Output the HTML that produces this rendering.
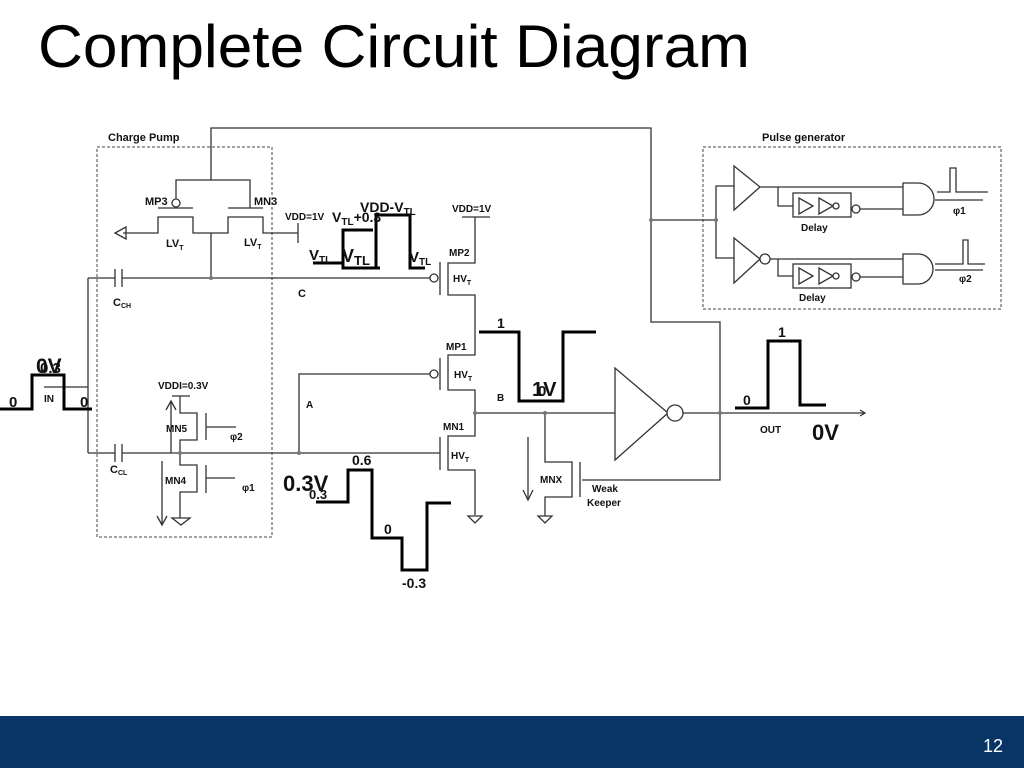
<!DOCTYPE html>
<html><head><meta charset="utf-8"><style>
html,body{margin:0;padding:0;background:#fff;}
svg{display:block;}
text{font-family:"Liberation Sans",Arial,sans-serif;fill:#111;}
.b{font-weight:bold;}
</style></head><body>
<svg width="1024" height="768" viewBox="0 0 1024 768" xmlns="http://www.w3.org/2000/svg">
<text x="38" y="67" font-size="60" textLength="712" lengthAdjust="spacingAndGlyphs" style="fill:#000">Complete Circuit Diagram</text>
<rect x="0" y="716" width="1024" height="52" fill="#083566"/>
<text x="983" y="752" font-size="18" style="fill:#fff">12</text>

<g fill="none" stroke="#444" stroke-width="1">
<rect x="97" y="147" width="175" height="390" stroke-dasharray="3,2"/>
<rect x="703" y="147" width="298" height="162" stroke-dasharray="3,2"/>
</g>

<g fill="none" stroke="#333" stroke-width="1.3">
<polyline points="211,180 211,128 651,128 651,322 720,322 720,480 582,480"/>
<line x1="651" y1="220" x2="716" y2="220"/>
<polyline points="734,186 716,186 716,258 734,258"/>
<polyline points="176,199 176,180 250,180 250,208"/>
<line x1="158" y1="208" x2="193" y2="208"/>
<line x1="228" y1="208" x2="263" y2="208"/>
<circle cx="176" cy="203" r="4" fill="#fff"/>
<polyline points="123,233 158,233 158,217 193,217 193,233 228,233 228,217 263,217 263,233 298,233"/>
<line x1="298" y1="223" x2="298" y2="243"/>
<polygon points="115,233 126,227 126,239"/>
<line x1="211" y1="233" x2="211" y2="278"/>
<line x1="88" y1="278" x2="115" y2="278"/>
<line x1="122" y1="278" x2="430" y2="278"/>
<line x1="115" y1="269" x2="115" y2="287"/><line x1="122" y1="269" x2="122" y2="287"/>
<line x1="88" y1="278" x2="88" y2="453"/>
<line x1="44" y1="387" x2="88" y2="387"/>
<line x1="88" y1="453" x2="115" y2="453"/>
<line x1="122" y1="453" x2="440" y2="453"/>
<line x1="115" y1="444" x2="115" y2="462"/><line x1="122" y1="444" x2="122" y2="462"/>
<polyline points="299,453 299,374 430,374"/>
<circle cx="434" cy="278" r="4" fill="#fff"/>
<line x1="440" y1="262" x2="440" y2="295"/>
<polyline points="475,217 475,263 448,263 448,295 475,295 475,355 448,355 448,390 475,390 475,436 448,436 448,470 475,470 475,515"/>
<line x1="462" y1="217" x2="490" y2="217"/>
<circle cx="434" cy="374" r="4" fill="#fff"/>
<line x1="440" y1="358" x2="440" y2="390"/>
<line x1="440" y1="437" x2="440" y2="470"/>
<polygon points="468,516 482,516 475,523" fill="#fff"/>
<line x1="475" y1="413" x2="616" y2="413"/>
<polyline points="545,413 545,462 572,462 572,497 545,497 545,516"/>
<polygon points="538,516 552,516 545,523" fill="#fff"/>
<line x1="580" y1="462" x2="580" y2="497"/>
<line x1="528" y1="437" x2="528" y2="500"/>
<polyline points="523,490 528,500 533,490"/>
<polygon points="615,368 615,460 668,413" fill="#fff"/>
<circle cx="675" cy="413" r="8" fill="#fff"/>
<line x1="683" y1="413" x2="864" y2="413"/>
<polyline points="860,410 865,413 860,416"/>
<line x1="172" y1="396" x2="190" y2="396"/>
<polyline points="180,396 180,413 197,413 197,440 180,440 180,465 197,465 197,492 180,492 180,518"/>
<polygon points="172,518 190,518 181,525" fill="#fff"/>
<line x1="206" y1="413" x2="206" y2="440"/><line x1="206" y1="427" x2="236" y2="427"/>
<line x1="206" y1="465" x2="206" y2="493"/><line x1="206" y1="478" x2="235" y2="478"/>
<line x1="171" y1="453" x2="171" y2="401"/><polyline points="166,410 171,401 176,410"/>
<line x1="162" y1="461" x2="162" y2="525"/><polyline points="157,516 162,525 167,516"/>
<polygon points="734,166 734,210 760,187" fill="#fff"/>
<line x1="760" y1="187" x2="903" y2="187"/>
<polyline points="778,187 778,206 793,206"/>
<rect x="793" y="193" width="58" height="24" fill="#fff"/>
<polygon points="799,198 799,214 813,206" fill="#fff"/>
<polygon points="819,198 819,214 833,206" fill="#fff"/>
<circle cx="836" cy="206" r="3" fill="#fff"/>
<circle cx="856" cy="209" r="4" fill="#fff"/>
<line x1="860" y1="209" x2="903" y2="209"/>
<path d="M903,183 L918,183 A16,16 0 0 1 918,215 L903,215 Z" fill="#fff"/>
<polyline points="937,192 950,192 950,168 956,168 956,192 988,192"/>
<line x1="935" y1="200" x2="983" y2="200"/>
<polygon points="734,238 734,283 760,259" fill="#fff"/>
<circle cx="765" cy="259" r="5" fill="#fff"/>
<line x1="770" y1="259" x2="903" y2="259"/>
<polyline points="778,259 778,276 793,276"/>
<rect x="793" y="264" width="58" height="24" fill="#fff"/>
<polygon points="799,268 799,284 813,276" fill="#fff"/>
<polygon points="819,268 819,284 833,276" fill="#fff"/>
<circle cx="836" cy="276" r="3" fill="#fff"/>
<circle cx="856" cy="277" r="4" fill="#fff"/>
<line x1="860" y1="277" x2="903" y2="277"/>
<path d="M903,254 L918,254 A15,15 0 0 1 918,284 L903,284 Z" fill="#fff"/>
<polyline points="935,264 963,264 963,240 968,240 968,264 985,264"/>
<line x1="935" y1="270" x2="983" y2="270"/>
</g>
<g fill="#777">
<circle cx="211" cy="278" r="2"/><circle cx="180" cy="453" r="2"/><circle cx="299" cy="453" r="2"/>
<circle cx="475" cy="413" r="2"/><circle cx="545" cy="413" r="2"/><circle cx="720" cy="413" r="2"/>
<circle cx="651" cy="220" r="2"/><circle cx="716" cy="220" r="2"/>
</g>

<g fill="none" stroke="#000" stroke-width="3">
<polyline points="0,409 32,409 32,375 64,375 64,409 92,409"/>
<polyline points="313,263 343,263 343,268 380,268"/>
<polyline points="343,268 343,230 373,230"/>
<polyline points="376,268 376,215 410,215 410,268 425,268"/>
<polyline points="479,332 519,332 519,401 563,401 563,332 596,332"/>
<polyline points="316,502 348,502 348,470 372,470 372,538 402,538 402,570 427,570 427,503 451,503"/>
<polyline points="735,408 768,408 768,341 800,341 800,405 826,405"/>
</g>

<g class="b">
<text x="108" y="141" font-size="11">Charge Pump</text>
<text x="762" y="141" font-size="11">Pulse generator</text>
<text x="145" y="205" font-size="11">MP3</text>
<text x="254" y="205" font-size="11">MN3</text>
<text x="166" y="247" font-size="11">LV<tspan font-size="7" dy="3">T</tspan></text>
<text x="244" y="246" font-size="11">LV<tspan font-size="7" dy="3">T</tspan></text>
<text x="113" y="306" font-size="11">C<tspan font-size="7" dy="2">CH</tspan></text>
<text x="110" y="473" font-size="11">C<tspan font-size="7" dy="2">CL</tspan></text>
<text x="285" y="220" font-size="10">VDD=1V</text>
<text x="452" y="212" font-size="10">VDD=1V</text>
<text x="298" y="297" font-size="11">C</text>
<text x="449" y="256" font-size="10">MP2</text>
<text x="453" y="282" font-size="10">HV<tspan font-size="7" dy="3">T</tspan></text>
<text x="446" y="350" font-size="10">MP1</text>
<text x="454" y="378" font-size="10">HV<tspan font-size="7" dy="3">T</tspan></text>
<text x="443" y="430" font-size="10">MN1</text>
<text x="451" y="459" font-size="10">HV<tspan font-size="7" dy="3">T</tspan></text>
<text x="306" y="408" font-size="10">A</text>
<text x="497" y="401" font-size="10">B</text>
<text x="540" y="483" font-size="10">MNX</text>
<text x="592" y="492" font-size="10">Weak</text>
<text x="587" y="506" font-size="10">Keeper</text>
<text x="158" y="389" font-size="10">VDDI=0.3V</text>
<text x="166" y="432" font-size="10">MN5</text>
<text x="165" y="484" font-size="10">MN4</text>
<text x="230" y="440" font-size="10">φ2</text>
<text x="242" y="491" font-size="10">φ1</text>
<text x="44" y="402" font-size="10">IN</text>
<text x="9" y="407" font-size="15">0</text>
<text x="80" y="407" font-size="15">0</text>
<text x="36" y="373" font-size="21">0V</text>
<text x="40" y="373" font-size="15">0.3</text>
<text x="801" y="231" font-size="10">Delay</text>
<text x="799" y="301" font-size="10">Delay</text>
<text x="953" y="214" font-size="10">φ1</text>
<text x="959" y="282" font-size="10">φ2</text>
<text x="760" y="433" font-size="10">OUT</text>
<text x="812" y="440" font-size="22">0V</text>
<text x="743" y="405" font-size="14">0</text>
<text x="778" y="337" font-size="14">1</text>
<text x="497" y="328" font-size="14">1</text>
<text x="532" y="396" font-size="20">1V</text>
<text x="538" y="396" font-size="15">0</text>
<text x="352" y="465" font-size="14">0.6</text>
<text x="283" y="491" font-size="22">0.3V</text>
<text x="309" y="499" font-size="13">0.3</text>
<text x="384" y="534" font-size="14">0</text>
<text x="402" y="588" font-size="14">-0.3</text>
<text x="360" y="212" font-size="14">VDD-V<tspan font-size="10" dy="3">TL</tspan></text>
<text x="332" y="222" font-size="14">V<tspan font-size="10" dy="3">TL</tspan><tspan dy="-3">+0.3</tspan></text>
<text x="309" y="260" font-size="15">V<tspan font-size="10" dy="3">TL</tspan></text>
<text x="342" y="262" font-size="18">V<tspan font-size="13" dy="3">TL</tspan></text>
<text x="409" y="262" font-size="15">V<tspan font-size="10" dy="3">TL</tspan></text>
</g>
</svg>
</body></html>
